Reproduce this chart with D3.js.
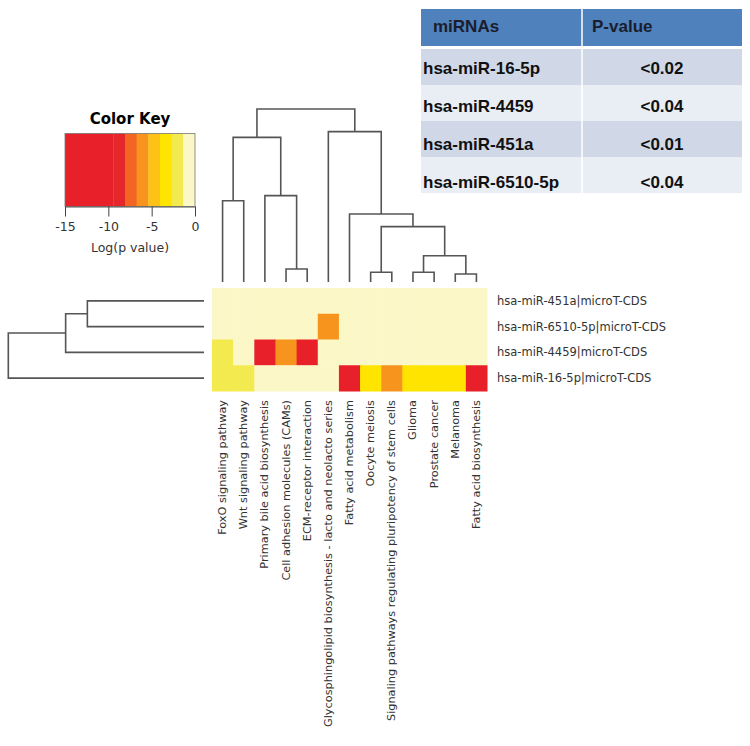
<!DOCTYPE html>
<html>
<head>
<meta charset="utf-8">
<script src="https://cdn.jsdelivr.net/npm/d3@7"></script>
<style>
  body { margin: 0; background: #fff; }
</style>
</head>
<body>
<div id="vis"></div>
<script>
// pathways (columns, left to right as drawn)
const pathways = [
  "FoxO signaling pathway",
  "Wnt signaling pathway",
  "Primary bile acid biosynthesis",
  "Cell adhesion molecules (CAMs)",
  "ECM-receptor interaction",
  "Glycosphingolipid biosynthesis - lacto and neolacto series",
  "Fatty acid metabolism",
  "Oocyte meiosis",
  "Signaling pathways regulating pluripotency of stem cells",
  "Glioma",
  "Prostate cancer",
  "Melanoma",
  "Fatty acid biosynthesis"
];
// miRNAs (rows, top to bottom)
const mirnas = [
  "hsa-miR-451a|microT-CDS",
  "hsa-miR-6510-5p|microT-CDS",
  "hsa-miR-4459|microT-CDS",
  "hsa-miR-16-5p|microT-CDS"
];
// log(p value) per row
const logP451a  = [-0.4, -0.4, -0.4, -0.4, -0.4, -0.4, -0.4, -0.4, -0.4, -0.4, -0.4, -0.4, -0.4];
const logP6510  = [-0.4, -0.4, -0.4, -0.4, -0.4, -6.1, -0.4, -0.4, -0.4, -0.4, -0.4, -0.4, -0.4];
const logP4459  = [-2.1, -0.4, -11.8, -6.0, -12.5, -0.4, -0.4, -0.4, -0.4, -0.4, -0.4, -0.4, -0.4];
const logP165p  = [-2.0, -2.2, -0.4, -0.4, -0.4, -0.4, -12.9, -3.4, -6.2, -3.3, -3.5, -3.4, -13.6];
const logP = [logP451a, logP6510, logP4459, logP165p];

// colour key
const keyBreaks = [-15, -9.42, -8.08, -6.73, -5.38, -4.04, -2.69, -1.35, 0];
const keyColors = ["#e8202a", "#e5272b", "#f26522", "#f7941d", "#fdc215", "#ffe400", "#f3ea4f", "#fcf7c6"];
const keyTicks = [-15, -10, -5, 0];

// dendrograms: merge heights, leaves are column / row indices
const colTree = {h: 10, c: [
  {h: 8.36, c: [{h: 4.70, c: [0, 1]}, {h: 4.99, c: [2, {h: 0.75, c: [3, 4]}]}]},
  {h: 8.69, c: [5, {h: 3.93, c: [6, {h: 3.20, c: [
    {h: 0.56, c: [7, 8]},
    {h: 1.52, c: [{h: 0.56, c: [9, 10]}, {h: 0.46, c: [11, 12]}]}
  ]}]}]}
]};
const rowTree = {h: 10, c: [{h: 7.07, c: [{h: 5.96, c: [0, 1]}, 2]}, 3]};

// summary table
const tableHeader = ["miRNAs", "P-value"];
const tableMirnas = ["hsa-miR-16-5p", "hsa-miR-4459", "hsa-miR-451a", "hsa-miR-6510-5p"];
const tablePvalues = ["<0.02", "<0.04", "<0.01", "<0.04"];

const svg = d3.select("#vis").append("svg")
  .attr("width", 750).attr("height", 746)
  .style("font-family", "'DejaVu Sans', sans-serif");

// heatmap
const x = d3.scaleBand().domain(d3.range(pathways.length)).range([212, 487]);
const y = d3.scaleBand().domain(d3.range(mirnas.length)).range([288, 391]);
const color = d3.scaleThreshold().domain(keyBreaks.slice(1, -1)).range(keyColors);

const cells = [];
logP.forEach((row, i) => row.forEach((v, j) => cells.push({i, j, v})));

svg.append("g").selectAll("rect")
  .data(cells)
  .join("rect")
  .attr("x", d => x(d.j))
  .attr("y", d => y(d.i))
  .attr("width", x.bandwidth() + 0.5)
  .attr("height", y.bandwidth() + 0.5)
  .attr("fill", d => color(d.v));

// row labels
svg.append("g").selectAll("text")
  .data(mirnas)
  .join("text")
  .attr("x", 497)
  .attr("y", (_, i) => y(i) + y.bandwidth() / 2)
  .attr("dominant-baseline", "central")
  .style("font-size", "11.5px")
  .attr("fill", "#333")
  .text(d => d);

// column labels
svg.append("g").selectAll("text")
  .data(pathways)
  .join("text")
  .attr("transform", (_, j) => `translate(${x(j) + x.bandwidth() / 2}, 400) rotate(-90)`)
  .attr("text-anchor", "end")
  .attr("dominant-baseline", "central")
  .style("font-size", "11.3px")
  .attr("fill", "#333")
  .text(d => d);

// dendrograms
function layoutTree(tree, leafPos) {
  const root = d3.hierarchy(tree, d => (typeof d === "number" ? null : d.c));
  root.eachAfter(n => {
    if (n.children) {
      n.pos = d3.mean(n.children, c => c.pos);
      n.h = n.data.h;
    } else {
      n.pos = leafPos(n.data);
      n.h = 0;
    }
  });
  return root.descendants().filter(n => n.children);
}

const hTop = d3.scaleLinear().domain([0, 10]).range([282, 109]);
const topNodes = layoutTree(colTree, j => x(j) + x.bandwidth() / 2);
svg.append("g").selectAll("path")
  .data(topNodes)
  .join("path")
  .attr("d", n => {
    const [a, b] = n.children;
    return `M${a.pos},${hTop(a.h)}V${hTop(n.h)}H${b.pos}V${hTop(b.h)}`;
  })
  .attr("fill", "none")
  .attr("stroke", "#555")
  .attr("stroke-width", 1.6);

const hLeft = d3.scaleLinear().domain([0, 10]).range([204, 8.3]);
const leftNodes = layoutTree(rowTree, i => y(i) + y.bandwidth() / 2);
svg.append("g").selectAll("path")
  .data(leftNodes)
  .join("path")
  .attr("d", n => {
    const [a, b] = n.children;
    return `M${hLeft(a.h)},${a.pos}H${hLeft(n.h)}V${b.pos}H${hLeft(b.h)}`;
  })
  .attr("fill", "none")
  .attr("stroke", "#555")
  .attr("stroke-width", 1.6);

// colour key
const kx = d3.scaleLinear().domain([-15, 0]).range([65, 195]);
const key = svg.append("g");
key.append("text")
  .attr("x", 130).attr("y", 124)
  .attr("text-anchor", "middle")
  .style("font-size", "15px")
  .style("font-weight", "bold")
  .text("Color Key");

key.selectAll("rect.bin")
  .data(keyColors)
  .join("rect")
  .attr("class", "bin")
  .attr("x", (_, i) => kx(keyBreaks[i]))
  .attr("y", 133.5)
  .attr("width", (_, i) => kx(keyBreaks[i + 1]) - kx(keyBreaks[i]) + 0.3)
  .attr("height", 73)
  .attr("fill", d => d);

key.append("rect")
  .attr("x", kx(-15)).attr("y", 133.5)
  .attr("width", kx(0) - kx(-15)).attr("height", 73)
  .attr("fill", "none").attr("stroke", "#777").attr("stroke-width", 0.8);

key.append("g")
  .attr("transform", "translate(0, 206.5)")
  .call(d3.axisBottom(kx).tickValues(keyTicks).tickSize(10).tickSizeOuter(0).tickPadding(6)
    .tickFormat(d => String(d)))
  .call(g => g.select(".domain").attr("stroke", "#555"))
  .call(g => g.selectAll("line").attr("stroke", "#444"))
  .call(g => g.selectAll("text")
    .style("font-family", "'DejaVu Sans', sans-serif")
    .style("font-size", "12.5px")
    .attr("fill", "#333"));

key.append("text")
  .attr("x", 130).attr("y", 252)
  .attr("text-anchor", "middle")
  .style("font-size", "12.5px")
  .attr("fill", "#333")
  .text("Log(p value)");

// table
const tbl = svg.append("g").style("font-family", "'Liberation Sans', Arial, sans-serif");
const tx0 = 421, tx1 = 582, tx2 = 742;
const ty = d3.scaleBand().domain(d3.range(tableMirnas.length)).range([49, 193]);

tbl.append("rect")
  .attr("x", tx0).attr("y", 9).attr("width", tx2 - tx0).attr("height", 37)
  .attr("fill", "#4f81bd");
tbl.append("line")
  .attr("x1", tx1).attr("x2", tx1).attr("y1", 9).attr("y2", 46)
  .attr("stroke", "#fff").attr("stroke-width", 1.5);
tbl.selectAll("text.head")
  .data(tableHeader)
  .join("text")
  .attr("class", "head")
  .attr("x", (_, i) => (i === 0 ? tx0 + 12 : tx1 + 10))
  .attr("y", 32)
  .style("font-size", "17px")
  .style("font-weight", "bold")
  .attr("fill", "#1a1d2b")
  .text(d => d);

tbl.selectAll("rect.row")
  .data(tableMirnas)
  .join("rect")
  .attr("class", "row")
  .attr("x", tx0)
  .attr("y", (_, i) => ty(i))
  .attr("width", tx2 - tx0)
  .attr("height", ty.bandwidth())
  .attr("fill", (_, i) => (i % 2 === 0 ? "#d0d8e8" : "#e9edf4"));
tbl.append("line")
  .attr("x1", tx1).attr("x2", tx1).attr("y1", 49).attr("y2", 193)
  .attr("stroke", "#fff").attr("stroke-width", 1.5);

tbl.selectAll("text.mir")
  .data(tableMirnas)
  .join("text")
  .attr("class", "mir")
  .attr("x", tx0 + 2)
  .attr("y", (_, i) => ty(i) + 25 + i * 2)
  .style("font-size", "17px")
  .style("font-weight", "bold")
  .attr("fill", "#111")
  .text(d => d);

tbl.selectAll("text.pv")
  .data(tablePvalues)
  .join("text")
  .attr("class", "pv")
  .attr("x", (tx1 + tx2) / 2)
  .attr("y", (_, i) => ty(i) + 25 + i * 2)
  .attr("text-anchor", "middle")
  .style("font-size", "17px")
  .style("font-weight", "bold")
  .attr("fill", "#111")
  .text(d => d);
</script>
</body>
</html>
